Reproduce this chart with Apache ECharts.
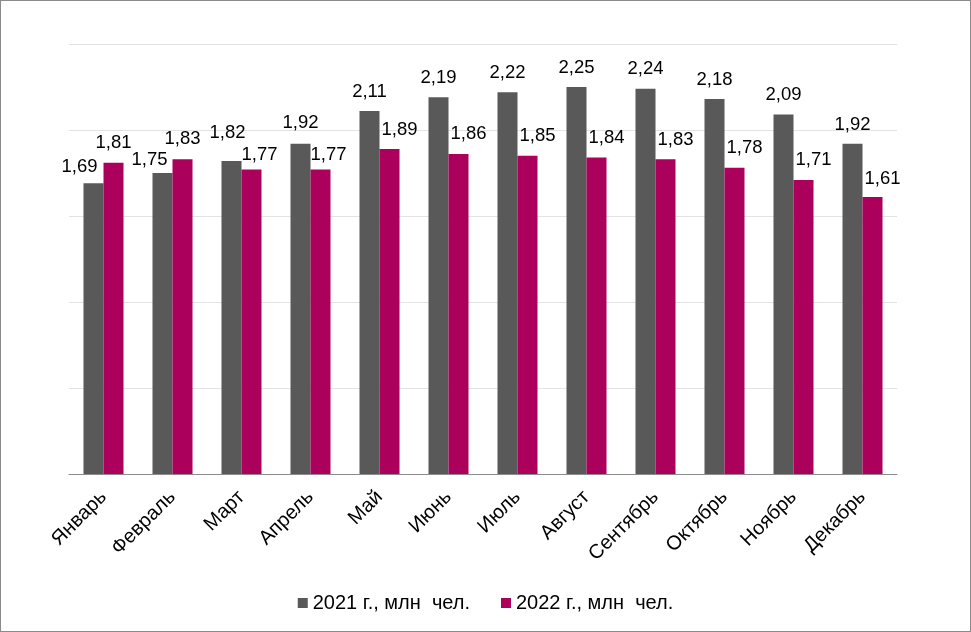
<!DOCTYPE html>
<html><head><meta charset="utf-8">
<script src="https://cdn.jsdelivr.net/npm/echarts@6/dist/echarts.min.js"></script>
<style>html,body{margin:0;padding:0;background:#fff}#c{width:971px;height:632px;box-sizing:border-box;border:1px solid #8a8a8a}</style>
</head><body><div id="c"></div>
<script>
const categories = ['Январь','Февраль','Март','Апрель','Май','Июнь','Июль','Август','Сентябрь','Октябрь','Ноябрь','Декабрь'];
const values2021 = [1.69,1.75,1.82,1.92,2.11,2.19,2.22,2.25,2.24,2.18,2.09,1.92];
const values2022 = [1.81,1.83,1.77,1.77,1.89,1.86,1.85,1.84,1.83,1.78,1.71,1.61];
const seriesNames = ['2021 г., млн  чел.','2022 г., млн  чел.'];
const FONT = '"Liberation Sans", Arial, sans-serif';
// label nudges (dx, dy) mimicking the original's overlap-avoiding label placement
const labelShift2021 = [[-14,3],[-13,6],[-4,-9],[0,-1],[0,0],[0,0],[0,0],[0,0],[0,0],[0,0],[0,0],[0,1]];
const labelShift2022 = [[0,0],[0,-1],[8,5],[8,5],[10,0],[10,-1],[10,0],[10,0],[10,0],[10,0],[10,0],[10,1]];
const chart = echarts.init(document.getElementById('c'));
const fmt = p => p.value.toFixed(2).replace('.', ',');
const mk = (vals, shifts) => vals.map((v, i) => ({value: v, label: {offset: shifts[i]}}));
const lbl = {show:true, position:'top', distance:10, color:'#000', fontSize:18.5, fontFamily:FONT, formatter:fmt};
chart.setOption({
  animation:false,
  textStyle:{fontFamily:FONT},
  grid:{left:68, right:73, top:43, bottom:157},
  legend:{bottom:13, left:'center', itemWidth:10, itemHeight:10, itemGap:31, icon:'rect',
    textStyle:{fontSize:20, color:'#000', fontFamily:FONT, padding:[0,0,0,0]}, data:seriesNames},
  xAxis:{type:'category', data:categories,
    axisLine:{lineStyle:{color:'#8c8c8c'}},
    axisTick:{length:6, lineStyle:{color:'#8c8c8c'}},
    axisLabel:{rotate:45, fontSize:20, color:'#000', fontFamily:FONT, margin:20, interval:0}},
  yAxis:{type:'value', min:0, max:2.5, interval:0.5,
    axisLabel:{show:false}, axisLine:{show:false}, axisTick:{show:false},
    splitLine:{lineStyle:{color:'#e3e3e3'}}},
  series:[
    {name:seriesNames[0], type:'bar', data:mk(values2021, labelShift2021), barWidth:20, barGap:'0%', itemStyle:{color:'#595959'}, label:lbl},
    {name:seriesNames[1], type:'bar', data:mk(values2022, labelShift2022), barWidth:20, barGap:'0%', itemStyle:{color:'#AB005B'}, label:lbl}
  ]
});
</script></body></html>
